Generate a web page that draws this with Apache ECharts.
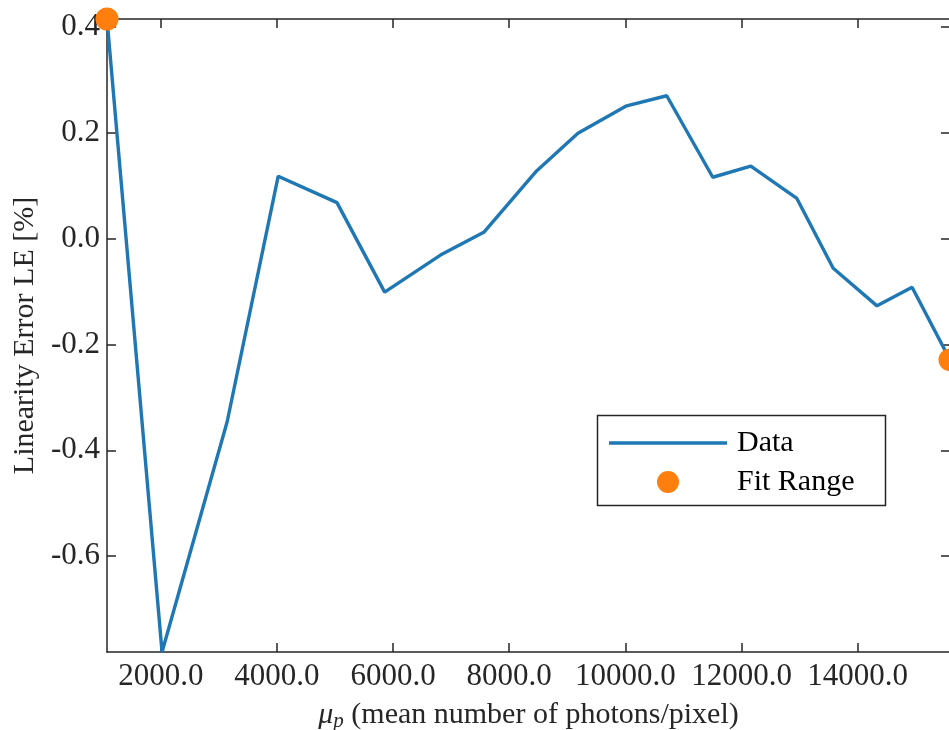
<!DOCTYPE html>
<html>
<head>
<meta charset="utf-8">
<title>Linearity Error</title>
<script src="https://cdn.jsdelivr.net/npm/echarts@6/dist/echarts.min.js"></script>
<style>
  html, body { margin: 0; padding: 0; background: #ffffff; }
  #chart { width: 949px; height: 730px; }
</style>
</head>
<body>
<div id="chart"></div>
<script>
// Mean number of photons per pixel (x) and linearity error in percent (y)
const meanPhotons = [1074, 2022, 3143, 4022, 5034, 5855, 6816, 7562, 8471, 9183,
                     10022, 10712, 11505, 12160, 12953, 13579, 14333, 14937, 15590];
const linearityError = [0.415, -0.781, -0.346, 0.118, 0.068, -0.101, -0.031, 0.012, 0.128, 0.199,
                        0.251, 0.270, 0.116, 0.137, 0.076, -0.056, -0.127, -0.092, -0.229];
// Points marking the bounds of the fit range
const fitRangeIdx = [0, meanPhotons.length - 1];
// Tick positions
const xTicks = [2000, 4000, 6000, 8000, 10000, 12000, 14000];
const yTicks = [-0.6, -0.4, -0.2, 0.0, 0.2, 0.4];

const BLUE = '#1f77b4';
const ORANGE = '#ff7f0e';
const AXIS = '#262626';
const FONT = '"Liberation Serif", "DejaVu Serif", serif';

const lineData = meanPhotons.map((x, i) => [x, linearityError[i]]);
const fitData = fitRangeIdx.map(i => [meanPhotons[i], linearityError[i]]);

const xMin = meanPhotons[0];
const xMax = meanPhotons[meanPhotons.length - 1];
const yMin = Math.min(...linearityError);
const yMax = Math.max(...linearityError);

const chart = echarts.init(document.getElementById('chart'), null, { renderer: 'canvas' });

const baseAxisLine = { show: true, onZero: false, lineStyle: { color: AXIS, width: 1.5 } };
const inTick = (vals) => ({ show: true, inside: true, length: 9, customValues: vals,
                            lineStyle: { color: AXIS, width: 1.5 } });

chart.setOption({
  animation: false,
  backgroundColor: '#ffffff',
  textStyle: { fontFamily: FONT },
  grid: { left: 107, top: 19, right: -1, bottom: 78, containLabel: false, outerBoundsMode: 'none' },
  xAxis: [
    {
      type: 'value', min: xMin, max: xMax, position: 'bottom',
      axisLine: baseAxisLine,
      axisTick: inTick(xTicks),
      splitLine: { show: false },
      axisLabel: {
        customValues: xTicks, margin: 9, color: AXIS, fontSize: 31, fontFamily: FONT,
        formatter: v => v.toFixed(1)
      },
      name: '{mu|μ}{sub|p} (mean number of photons/pixel)',
      nameLocation: 'middle', nameGap: 44,
      nameTextStyle: {
        color: AXIS, fontSize: 30, fontFamily: FONT, lineHeight: 34,
        rich: {
          mu: { fontSize: 30, fontStyle: 'italic', fontFamily: FONT, color: AXIS, lineHeight: 34 },
          sub: { fontSize: 21, fontStyle: 'italic', fontFamily: FONT, color: AXIS,
                 lineHeight: 34, verticalAlign: 'bottom', padding: [14, 0, 0, 0] }
        }
      }
    },
    {
      type: 'value', min: xMin, max: xMax, position: 'top',
      axisLine: baseAxisLine,
      axisTick: inTick(xTicks),
      axisLabel: { show: false }, splitLine: { show: false }
    }
  ],
  yAxis: [
    {
      type: 'value', min: yMin, max: yMax, position: 'left',
      axisLine: baseAxisLine,
      axisTick: inTick(yTicks),
      splitLine: { show: false },
      axisLabel: {
        customValues: yTicks, margin: 7, color: AXIS, fontSize: 31, fontFamily: FONT,
        formatter: v => v.toFixed(1)
      },
      name: 'Linearity Error LE [%]',
      nameLocation: 'middle', nameGap: 66, nameRotate: 90,
      nameTextStyle: { color: AXIS, fontSize: 30, fontFamily: FONT }
    },
    {
      type: 'value', min: yMin, max: yMax, position: 'right',
      axisLine: baseAxisLine,
      axisTick: inTick(yTicks),
      axisLabel: { show: false }, splitLine: { show: false }
    }
  ],
  legend: [
    {
      data: [{ name: 'Data', icon: 'rect' }],
      left: 609, top: 428, orient: 'vertical', z: 20,
      itemWidth: 118, itemHeight: 3.5,
      textStyle: { fontSize: 30, fontFamily: FONT, color: '#000', padding: [0, 0, 0, 5] },
      itemGap: 0, padding: 0
    },
    {
      data: [{ name: 'Fit Range', icon: 'circle' }],
      left: 657, top: 467, orient: 'vertical', z: 20,
      itemWidth: 22, itemHeight: 22,
      textStyle: { fontSize: 30, fontFamily: FONT, color: '#000', padding: [0, 0, 0, 53] },
      itemGap: 0, padding: 0
    }
  ],
  graphic: [
    {
      type: 'rect', z: 5, silent: true,
      shape: { x: 597.5, y: 415.5, width: 288, height: 90 },
      style: { fill: '#ffffff', stroke: AXIS, lineWidth: 1.5 }
    }
  ],
  series: [
    {
      name: 'Data', type: 'line', data: lineData,
      xAxisIndex: 0, yAxisIndex: 0,
      showSymbol: false, symbol: 'none',
      lineStyle: { color: BLUE, width: 3.4 },
      itemStyle: { color: BLUE }, z: 2
    },
    {
      name: 'Fit Range', type: 'scatter', data: fitData,
      xAxisIndex: 0, yAxisIndex: 0,
      symbol: 'circle', symbolSize: 23, clip: false,
      itemStyle: { color: ORANGE, opacity: 1 }, z: 3
    }
  ]
});
</script>
</body>
</html>
